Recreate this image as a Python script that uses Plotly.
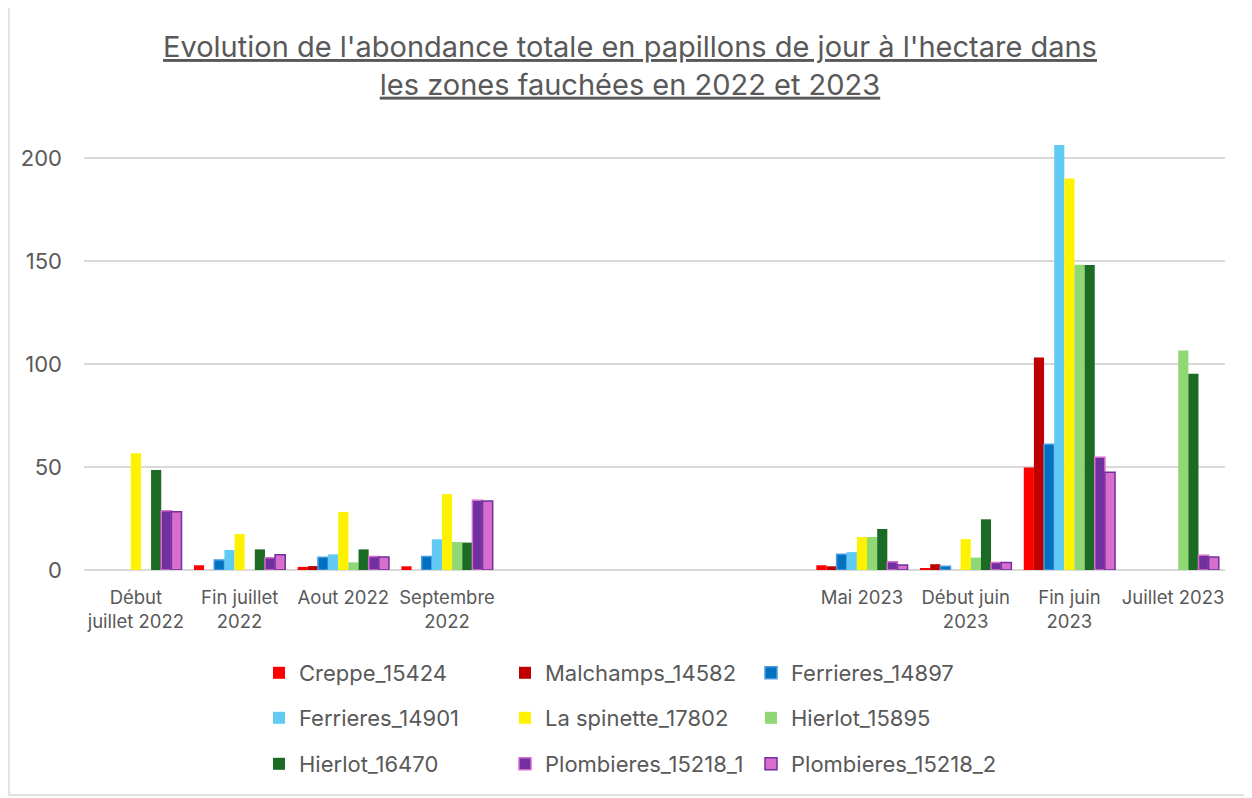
import plotly.graph_objects as go

categories = ["Début<br>juillet 2022", "Fin juillet<br>2022", "Aout 2022", "Septembre<br>2022",
              " ", "  ", "   ",
              "Mai 2023", "Début juin<br>2023", "Fin juin<br>2023", "Juillet 2023"]

series_names = ["Creppe_15424", "Malchamps_14582", "Ferrieres_14897",
                "Ferrieres_14901", "La spinette_17802", "Hierlot_15895",
                "Hierlot_16470", "Plombieres_15218_1", "Plombieres_15218_2"]

creppe_15424 =       [None, 2.3, 1.5, 1.8, None, None, None, 2.3, 0.8, 49.8, None]
malchamps_14582 =    [None, None, 1.9, None, None, None, None, 1.8, 2.8, 103.2, None]
ferrieres_14897 =    [None, 4.9, 6.2, 6.5, None, None, None, 7.6, 1.8, 61.0, None]
ferrieres_14901 =    [None, 9.7, 7.6, 14.9, None, None, None, 8.7, None, 206.3, None]
la_spinette_17802 =  [56.7, 17.5, 28.2, 36.9, None, None, None, 16.0, 15.0, 190.1, None]
hierlot_15895 =      [None, None, 3.7, 13.6, None, None, None, 16.0, 6.0, 148.2, 106.6]
hierlot_16470 =      [48.5, 10.0, 10.0, 13.3, None, None, None, 19.9, 24.6, 148.1, 95.3]
plombieres_15218_1 = [28.8, 6.0, 6.6, 33.8, None, None, None, 4.0, 3.7, 54.7, 7.1]
plombieres_15218_2 = [28.3, 7.4, 6.3, 33.5, None, None, None, 2.4, 3.7, 47.4, 6.3]

values = [creppe_15424, malchamps_14582, ferrieres_14897, ferrieres_14901,
          la_spinette_17802, hierlot_15895, hierlot_16470,
          plombieres_15218_1, plombieres_15218_2]

fills = ["#FF0000", "#C00000", "#0070C0", "#61CBF3", "#FFF200",
         "#8FD873", "#1B6B24", "#7030A0", "#D86ECC"]
borders = ["#FF0000", "#C00000", "#4A9BE0", "#61CBF3", "#FFF200",
           "#8FD873", "#1B6B24", "#D86ECC", "#7030A0"]
border_w = [0, 0, 1.5, 0, 0, 0, 0, 1.5, 1.5]
legend_ids = ["legend", "legend", "legend",
              "legend2", "legend2", "legend2",
              "legend3", "legend3", "legend3"]

FONT = "Inter, Roboto, Arial, sans-serif"
GREY = "#595959"

fig = go.Figure()
for name, vals, fc, bc, bw, lg in zip(series_names, values, fills, borders, border_w, legend_ids):
    fig.add_trace(go.Bar(
        name=name, x=categories, y=vals,
        marker=dict(color=fc, line=dict(color=bc, width=bw)),
        legend=lg,
    ))

leg_common = dict(orientation="h", xanchor="left", yanchor="middle",
                  font=dict(family=FONT, size=22, color=GREY),
                  entrywidth=201, entrywidthmode="pixels",
                  bgcolor="rgba(0,0,0,0)", itemclick=False)

# figure is drawn with an 8px page offset; plot area in figure px: x 76..1217, y 122..562
W, H = 1244, 790
L, R, T, B = 76, W - 1217, 122, H - 562
pw, ph = W - L - R, H - T - B

def px_x(x):
    return (x - L) / pw

def px_y(y):
    return (H - B - y) / ph

fig.update_layout(
    width=W, height=H,
    margin=dict(l=L, r=R, t=T, b=B),
    paper_bgcolor="white", plot_bgcolor="white",
    barmode="group", bargap=0.12, bargroupgap=0,
    font=dict(family=FONT, color=GREY),
    title=dict(
        text="<u>Evolution de l'abondance totale en papillons de jour à l'hectare dans</u><br><u>les zones fauchées en 2022 et 2023</u>",
        x=0.5, xanchor="center", y=1 - 49 / H, yanchor="top",
        font=dict(family=FONT, size=29, color=GREY),
    ),
    xaxis=dict(
        type="category", tickfont=dict(family=FONT, size=18.5, color=GREY),
        showgrid=False, showline=False, ticks="", ticklabelstandoff=14,
    ),
    yaxis=dict(
        range=[0, 213.6], tickvals=[0, 50, 100, 150, 200],
        tickfont=dict(family=FONT, size=22, color=GREY),
        showgrid=True, gridcolor="#D9D9D9", gridwidth=1.5,
        zeroline=True, zerolinecolor="#D9D9D9", zerolinewidth=1.5,
        showline=False, ticks="", ticklabelstandoff=21,
    ),
    legend=dict(x=px_x(251), y=px_y(665), **leg_common),
    legend2=dict(x=px_x(251), y=px_y(710), **leg_common),
    legend3=dict(x=px_x(251), y=px_y(756), **leg_common),
    shapes=[dict(type="rect", xref="paper", yref="paper",
                 x0=px_x(1), x1=px_x(W - 2), y0=px_y(787), y1=px_y(-10),
                 line=dict(color="#D9D9D9", width=1.5), fillcolor="rgba(0,0,0,0)",
                 layer="below")],
)

fig.write_html("out.html")
